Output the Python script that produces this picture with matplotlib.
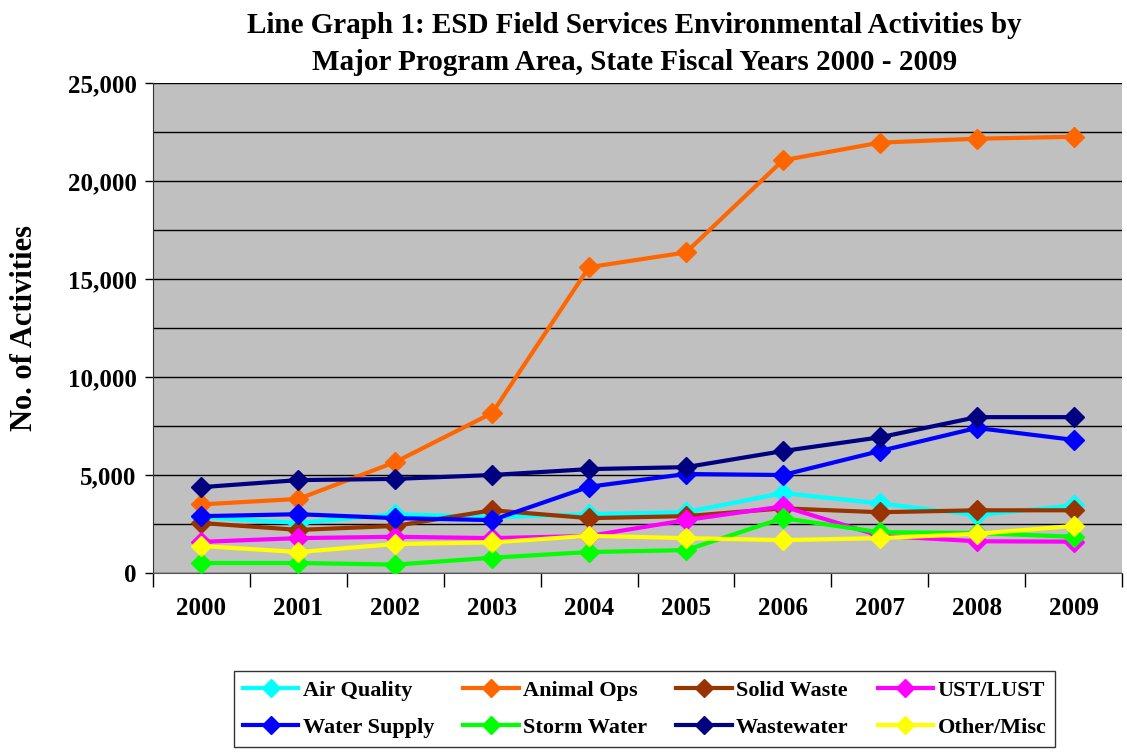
import matplotlib
matplotlib.use("Agg")
import matplotlib.pyplot as plt
from matplotlib.ticker import MultipleLocator, FuncFormatter

years = ["2000", "2001", "2002", "2003", "2004", "2005", "2006", "2007", "2008", "2009"]

air_quality = [2850, 2550, 3000, 2850, 3000, 3100, 4080, 3550, 2950, 3450]
animal_ops = [3500, 3780, 5660, 8160, 15600, 16350, 21050, 21950, 22150, 22250]
solid_waste = [2550, 2200, 2400, 3200, 2800, 2900, 3300, 3100, 3200, 3200]
ust_lust = [1590, 1780, 1850, 1780, 1890, 2700, 3400, 1900, 1620, 1600]
water_supply = [2900, 3000, 2800, 2700, 4400, 5050, 5000, 6220, 7400, 6790]
storm_water = [510, 510, 430, 780, 1070, 1170, 2800, 2080, 2040, 1850]
wastewater = [4380, 4740, 4800, 5000, 5300, 5400, 6220, 6920, 7950, 7950]
other_misc = [1380, 1070, 1480, 1560, 1900, 1780, 1680, 1780, 2000, 2400]

series = [
    ("Air Quality", air_quality, "#00FFFF"),
    ("Animal Ops", animal_ops, "#FF6600"),
    ("Solid Waste", solid_waste, "#993300"),
    ("UST/LUST", ust_lust, "#FF00FF"),
    ("Water Supply", water_supply, "#0000FF"),
    ("Storm Water", storm_water, "#00FF00"),
    ("Wastewater", wastewater, "#000080"),
    ("Other/Misc", other_misc, "#FFFF00"),
]

serif = ["Liberation Serif", "DejaVu Serif"]
plt.rcParams["font.family"] = serif

fig = plt.figure(figsize=(11.27, 7.53), dpi=100)
ax = fig.add_axes([0.1358, 0.239, 0.8598, 0.651])
ax.set_facecolor("#C0C0C0")

x = list(range(len(years)))
handles = []
for name, vals, col in series:
    h, = ax.plot(x, vals, color=col, lw=3, marker="D", markersize=10,
                 markeredgecolor=col, label=name, zorder=3)
    handles.append(h)

ax.set_xlim(-0.5, len(years) - 0.5)
ax.set_ylim(0, 25000)
ax.yaxis.set_major_locator(MultipleLocator(5000))
ax.yaxis.set_minor_locator(MultipleLocator(2500))
ax.yaxis.set_major_formatter(FuncFormatter(lambda v, p: f"{int(v):,}"))
ax.grid(True, which="both", axis="y", color="black", lw=1, zorder=1)
ax.set_axisbelow(True)

ax.set_xticks([i - 0.5 for i in range(len(years) + 1)])
ax.set_xticklabels([])
ax.set_xticks(x, minor=True)
ax.set_xticklabels(years, minor=True, fontsize=18, fontweight="bold")
ax.tick_params(axis="x", which="major", length=10, width=1, direction="out")
ax.tick_params(axis="x", which="minor", length=0, pad=17)
ax.tick_params(axis="y", which="major", length=6, labelsize=18, width=1, pad=6)
for lbl in ax.get_yticklabels():
    lbl.set_fontweight("bold")
ax.tick_params(axis="y", which="minor", length=0)

for s in ["top", "right"]:
    ax.spines[s].set_visible(False)
ax.spines["left"].set_color("#333333")
ax.spines["bottom"].set_color("#555555")

fig.text(0.022, 0.565, "No. of Activities", rotation=90, ha="center", va="center",
         fontsize=22, fontweight="bold")

fig.text(0.563, 0.966, "Line Graph 1: ESD Field Services Environmental Activities by",
         ha="center", va="center", fontsize=21, fontweight="bold")
fig.text(0.563, 0.917, "Major Program Area, State Fiscal Years 2000 - 2009",
         ha="center", va="center", fontsize=21, fontweight="bold")

# legend: row-wise order (4 columns, 2 rows)
order = [0, 4, 1, 5, 2, 6, 3, 7]
leg = fig.legend([handles[i] for i in order], [series[i][0] for i in order],
                 loc="center", bbox_to_anchor=(0.572, 0.0585), ncol=4,
                 prop={"family": serif, "weight": "bold", "size": 16},
                 frameon=True, fancybox=False, edgecolor="black",
                 handlelength=2.5, columnspacing=1.3, handletextpad=0.2,
                 labelspacing=0.75, borderpad=0.4, markerscale=0.9)
leg.get_frame().set_linewidth(1)

fig.savefig("out.png", dpi=100)
